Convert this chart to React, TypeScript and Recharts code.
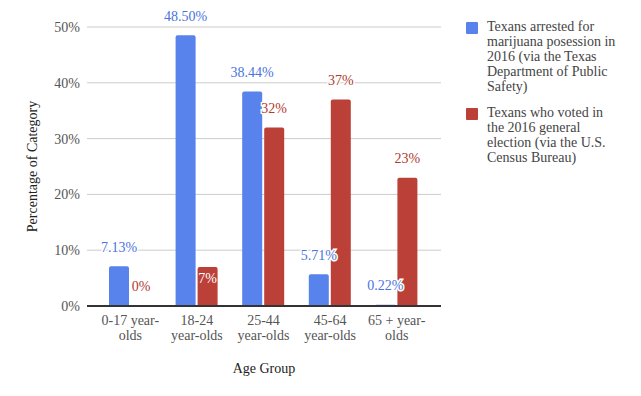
import { BarChart, Bar, XAxis, YAxis, CartesianGrid, LabelList, Label } from "recharts";

const ageGroups = ["0-17 year-olds", "18-24 year-olds", "25-44 year-olds", "45-64 year-olds", "65 + year-olds"];
const tickLines = [
  ["0-17 year-", "olds"],
  ["18-24", "year-olds"],
  ["25-44", "year-olds"],
  ["45-64", "year-olds"],
  ["65 + year-", "olds"],
];
const arrested = [7.13, 48.5, 38.44, 5.71, 0.22];
const voted = [0, 7, 32, 37, 23];
const yTicks = [0, 10, 20, 30, 40, 50];

const ARRESTED_NAME = "Texans arrested for marijuana posession in 2016 (via the Texas Department of Public Safety)";
const VOTED_NAME = "Texans who voted in the 2016 general election (via the U.S. Census Bureau)";

const BLUE = "#5882ec";
const RED = "#bb4038";
const FONT = "'Liberation Serif', 'Times New Roman', serif";

const data = ageGroups.map((group, i) => ({ group, arrested: arrested[i], voted: voted[i] }));

// labels sit above the bar; the 7% one goes inside in white like the original
function makeLabel(fmt: (v: number) => string, color: string, insideWhen?: (v: number) => boolean) {
  return (props: any) => {
    const { x, y, width, value } = props;
    const inside = insideWhen ? insideWhen(value) : false;
    return (
      <text
        x={x + width / 2}
        y={inside ? y + 12 : y - 19}
        textAnchor="middle"
        dominantBaseline="central"
        fontSize={14}
        fontFamily={FONT}
        fill={inside ? "#fff" : color}
        stroke={inside ? "none" : "#fff"}
        strokeWidth={3}
        paintOrder="stroke"
      >
        {fmt(value)}
      </text>
    );
  };
}

function AgeTick(props: any) {
  const { x, y, payload } = props;
  const lines = tickLines[payload.index] ?? [payload.value];
  return (
    <text x={x} y={y} textAnchor="middle" fontSize={14} fontFamily={FONT} fill="#555">
      {lines.map((l, i) => (
        <tspan key={i} x={x} y={y + 6 + i * 15} dominantBaseline="central">
          {l}
        </tspan>
      ))}
    </text>
  );
}

const legendItems = [
  { name: ARRESTED_NAME, color: BLUE },
  { name: VOTED_NAME, color: RED },
];

export default function App() {
  return (
    <div style={{ position: "relative", width: 625, height: 380, fontFamily: FONT }}>
      <BarChart
        width={625}
        height={380}
        data={data}
        margin={{ top: 19, right: 192, bottom: 12, left: 0 }}
        barSize={20}
        barGap={2}
      >
        <CartesianGrid vertical={false} stroke="#ccc" />
        <XAxis
          dataKey="group"
          padding={{ left: 10, right: 11 }}
          axisLine={{ stroke: "#333", strokeWidth: 2 }}
          tickLine={false}
          tick={<AgeTick />}
          interval={0}
          height={70}
        >
          <Label
            content={({ viewBox }: any) => (
              <text
                x={viewBox.x + viewBox.width / 2}
                y={viewBox.y + 62}
                textAnchor="middle"
                dominantBaseline="central"
                fontSize={14}
                fontFamily={FONT}
                fill="#222"
              >
                Age Group
              </text>
            )}
          />
        </XAxis>
        <YAxis
          domain={[0, 50]}
          ticks={yTicks}
          tickFormatter={(v) => `${v}%`}
          axisLine={false}
          tickLine={false}
          tickMargin={1}
          width={79}
          tick={{ fontSize: 14, fill: "#555", fontFamily: FONT }}
        >
          <Label
            content={({ viewBox }: any) => {
              const cx = viewBox.x + 24;
              const cy = viewBox.y + viewBox.height / 2;
              return (
                <text
                  x={cx}
                  y={cy}
                  transform={`rotate(-90 ${cx} ${cy})`}
                  textAnchor="middle"
                  dominantBaseline="central"
                  fontSize={14}
                  fontFamily={FONT}
                  fill="#222"
                >
                  Percentage of Category
                </text>
              );
            }}
          />
        </YAxis>
        <Bar dataKey="arrested" name={ARRESTED_NAME} fill={BLUE} radius={[2, 2, 0, 0]} isAnimationActive={false}>
          <LabelList dataKey="arrested" content={makeLabel((v) => `${v.toFixed(2)}%`, "#4a74dc")} />
        </Bar>
        <Bar dataKey="voted" name={VOTED_NAME} fill={RED} radius={[2, 2, 0, 0]} minPointSize={0.01} isAnimationActive={false}>
          <LabelList dataKey="voted" content={makeLabel((v) => `${v}%`, "#b23a2e", (v) => v === 7)} />
        </Bar>
      </BarChart>
      <div style={{ position: "absolute", left: 458, top: 11, fontSize: 14, lineHeight: "15px", color: "#444" }}>
        {legendItems.map((p) => (
          <div key={p.name} style={{ display: "flex", marginBottom: 11 }}>
            <div style={{ width: 12, height: 12, background: p.color, marginTop: 2.5, marginRight: 9, flex: "none", borderRadius: 1 }} />
            <div style={{ width: 136 }}>{p.name}</div>
          </div>
        ))}
      </div>
    </div>
  );
}
